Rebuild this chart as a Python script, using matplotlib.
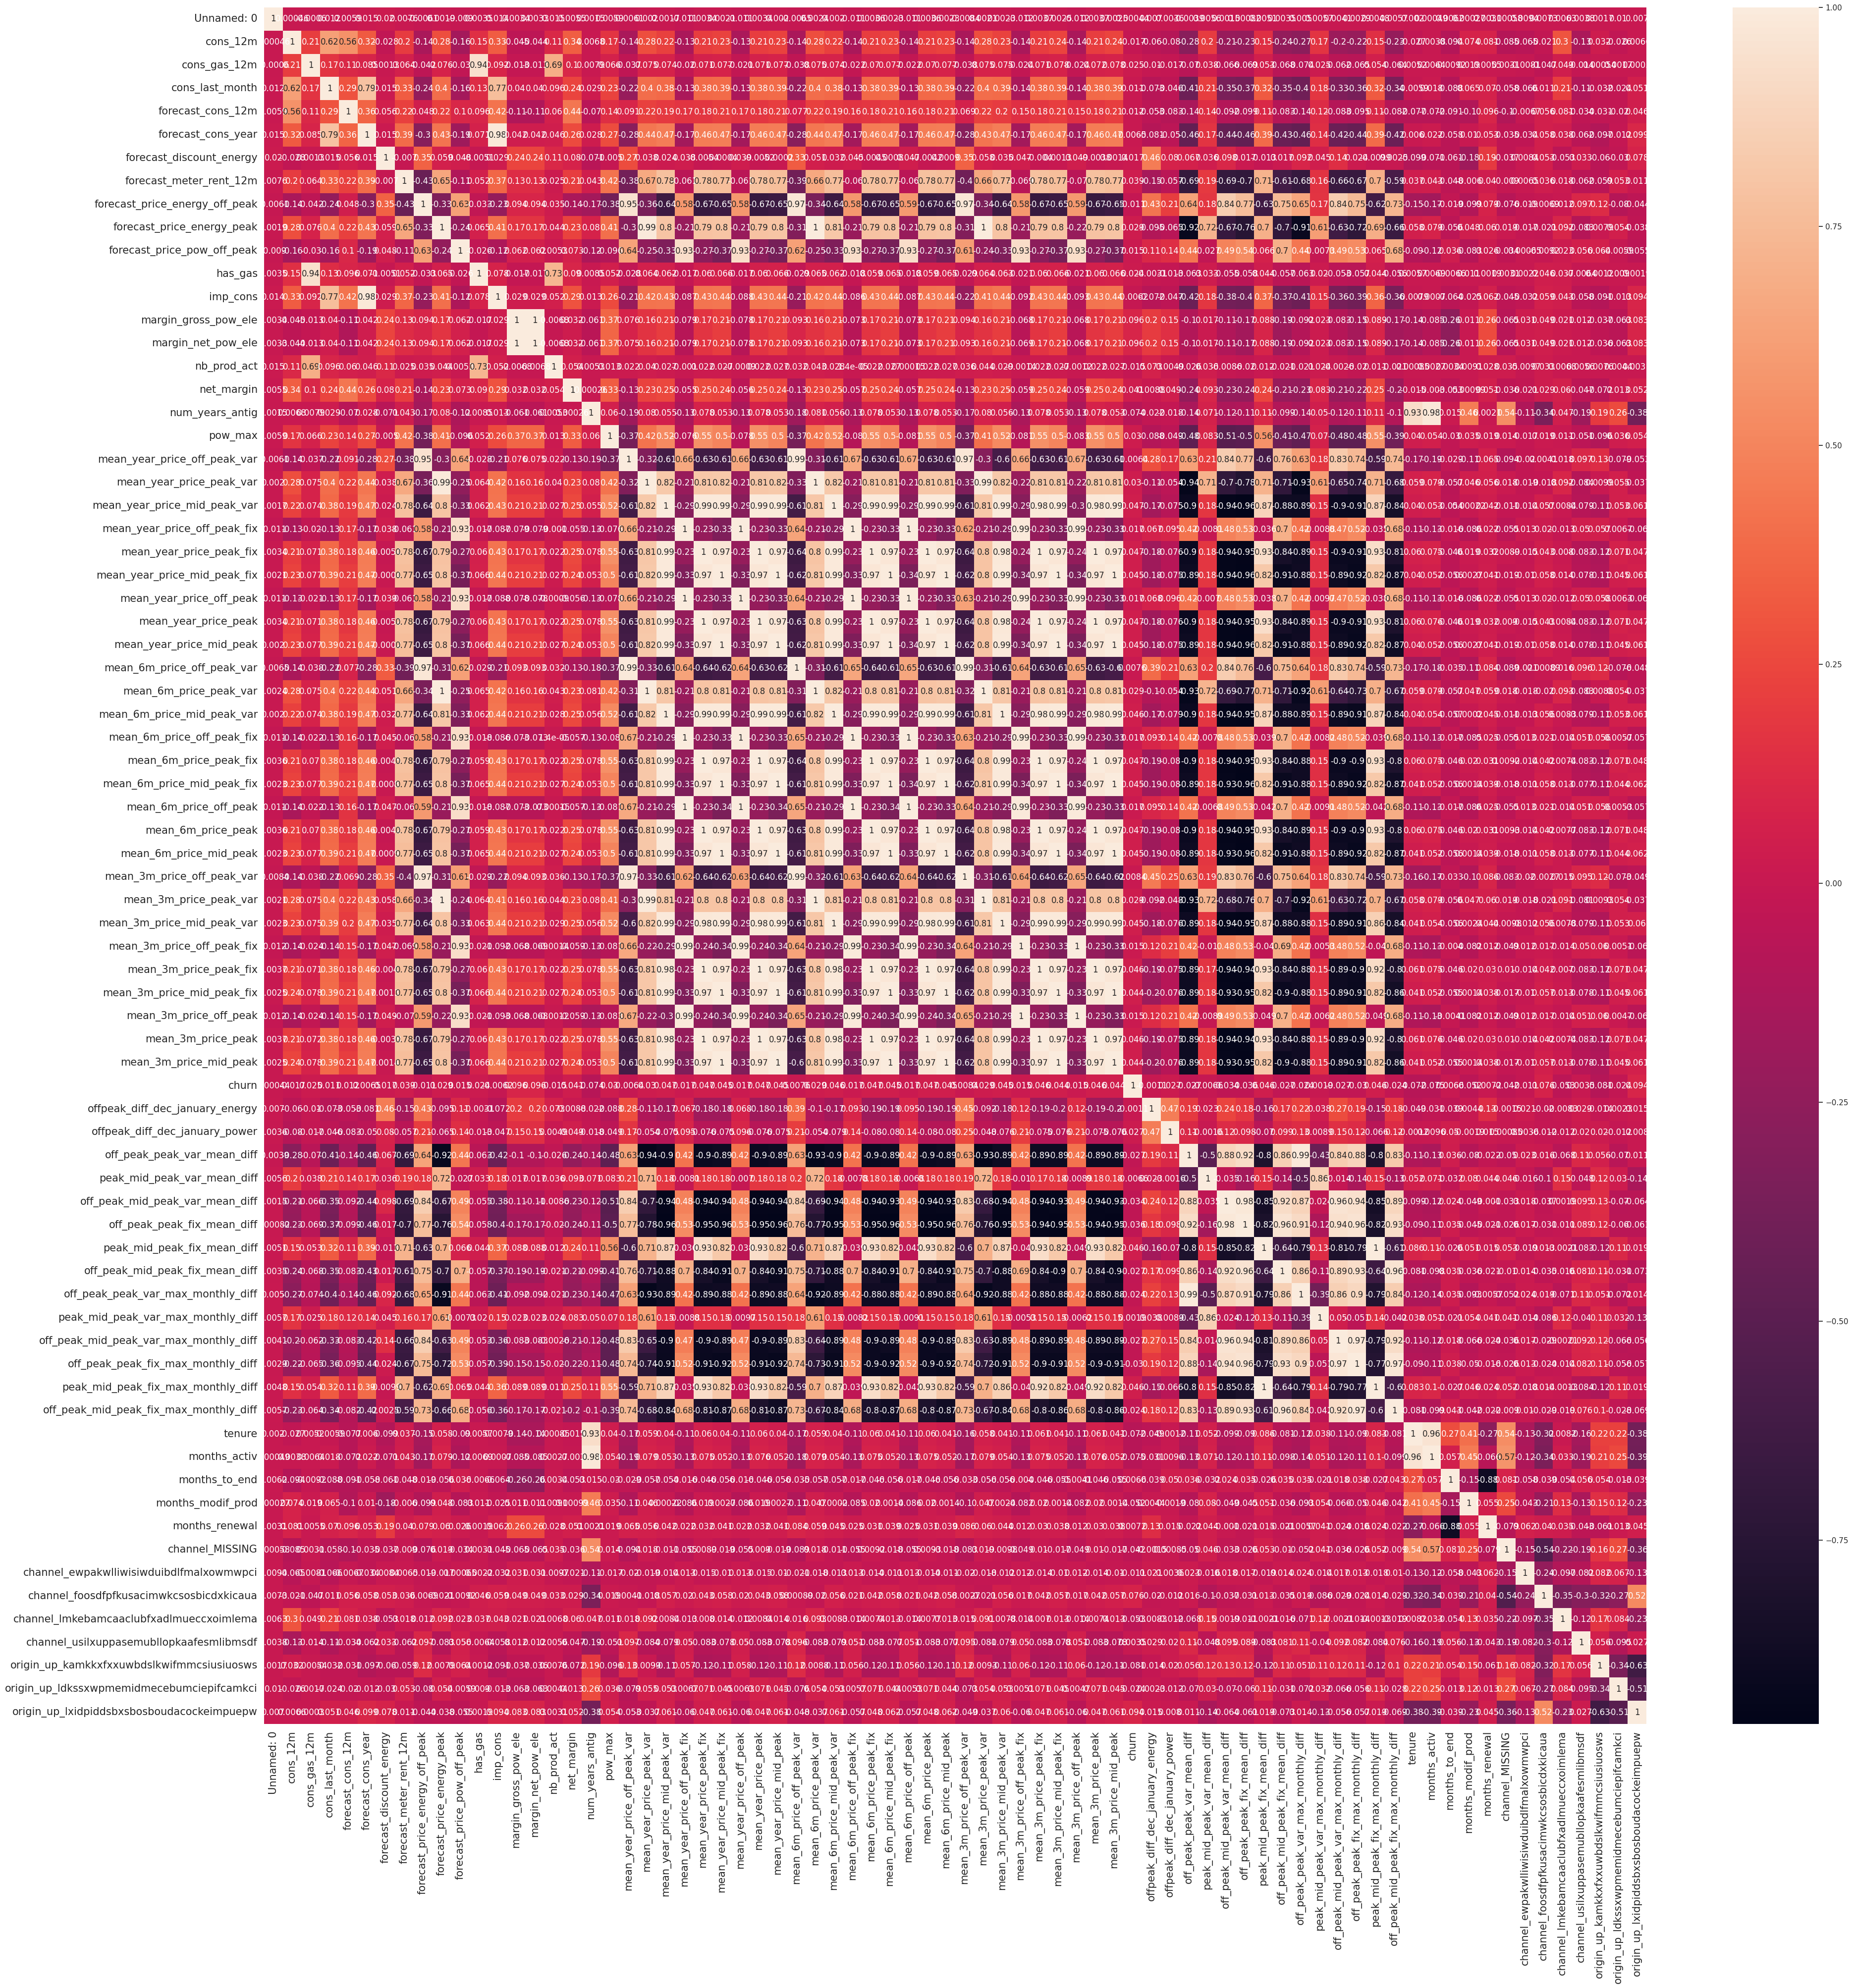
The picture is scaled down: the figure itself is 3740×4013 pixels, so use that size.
import numpy as np
import matplotlib
matplotlib.use('Agg')
import matplotlib.pyplot as plt
import seaborn as sns

labels = ['Unnamed: 0', 'cons_12m', 'cons_gas_12m', 'cons_last_month', 'forecast_cons_12m', 'forecast_cons_year',
          'forecast_discount_energy', 'forecast_meter_rent_12m', 'forecast_price_energy_off_peak',
          'forecast_price_energy_peak', 'forecast_price_pow_off_peak', 'has_gas', 'imp_cons', 'margin_gross_pow_ele',
          'margin_net_pow_ele', 'nb_prod_act', 'net_margin', 'num_years_antig', 'pow_max',
          'mean_year_price_off_peak_var', 'mean_year_price_peak_var', 'mean_year_price_mid_peak_var',
          'mean_year_price_off_peak_fix', 'mean_year_price_peak_fix', 'mean_year_price_mid_peak_fix',
          'mean_year_price_off_peak', 'mean_year_price_peak', 'mean_year_price_mid_peak',
          'mean_6m_price_off_peak_var', 'mean_6m_price_peak_var', 'mean_6m_price_mid_peak_var',
          'mean_6m_price_off_peak_fix', 'mean_6m_price_peak_fix', 'mean_6m_price_mid_peak_fix',
          'mean_6m_price_off_peak', 'mean_6m_price_peak', 'mean_6m_price_mid_peak',
          'mean_3m_price_off_peak_var', 'mean_3m_price_peak_var', 'mean_3m_price_mid_peak_var',
          'mean_3m_price_off_peak_fix', 'mean_3m_price_peak_fix', 'mean_3m_price_mid_peak_fix',
          'mean_3m_price_off_peak', 'mean_3m_price_peak', 'mean_3m_price_mid_peak', 'churn',
          'offpeak_diff_dec_january_energy', 'offpeak_diff_dec_january_power', 'off_peak_peak_var_mean_diff',
          'peak_mid_peak_var_mean_diff', 'off_peak_mid_peak_var_mean_diff', 'off_peak_peak_fix_mean_diff',
          'peak_mid_peak_fix_mean_diff', 'off_peak_mid_peak_fix_mean_diff', 'off_peak_peak_var_max_monthly_diff',
          'peak_mid_peak_var_max_monthly_diff', 'off_peak_mid_peak_var_max_monthly_diff',
          'off_peak_peak_fix_max_monthly_diff', 'peak_mid_peak_fix_max_monthly_diff',
          'off_peak_mid_peak_fix_max_monthly_diff', 'tenure', 'months_activ', 'months_to_end', 'months_modif_prod',
          'months_renewal', 'channel_MISSING', 'channel_ewpakwlliwisiwduibdlfmalxowmwpci',
          'channel_foosdfpfkusacimwkcsosbicdxkicaua', 'channel_lmkebamcaaclubfxadlmueccxoimlema',
          'channel_usilxuppasemubllopkaafesmlibmsdf', 'origin_up_kamkkxfxxuwbdslkwifmmcsiusiuosws',
          'origin_up_ldkssxwpmemidmecebumciepifcamkci', 'origin_up_lxidpiddsbxsbosboudacockeimpuepw']

# upper triangle of the correlation matrix, each row starts right after the diagonal
r00 = [.00046,-.0006,.012,.0059,.015,.02,.0076,-.0061,.0019,-.009,.0035,.014,.0034,.0033,.015,.0055,.0015,.0059,-.0061,
       .002,.0017,-.011,.0034,.0021,-.011,.0034,.002,-.0065,.0024,.002,-.011,.0036,.0023,-.011,.0036,.0023,-.0084,.0021,.0023,-.012,.0037,.0025,-.012,.0037,.0025,.00044,.007,.0036,
       -.0039,.0056,.0015,.00082,.0051,.0035,.005,.0057,.0041,.0029,.0048,.0057,.002,.00049,.0062,.00027,.0031,.00058,.0094,.0073,.0063,.0038,.0017,.01,.007]
r01 = [.21,.62,.56,.32,-.028,.2,-.14,.28,-.16,.15,.33,-.045,-.044,.11,.34,.0068,.17,-.14,
       .28,.22,-.13,.21,.23,-.13,.21,.23,-.14,.28,.22,-.14,.21,.23,-.14,.21,.23,-.14,.28,.23,-.14,.21,.24,-.14,.21,.24,-.017,-.06,-.08,
       -.28,.2,-.21,-.23,.15,-.24,-.27,.17,-.2,-.22,.15,-.23,-.027,.0038,-.094,.074,.081,-.085,-.065,-.021,.3,-.13,.032,-.026,.0066]
r02 = [.17,.11,.085,.0013,.064,-.042,.076,-.03,.94,.092,-.013,-.013,.69,.1,.0079,.066,-.037,
       .075,.074,-.02,.071,.077,-.021,.071,.077,-.038,.075,.074,-.022,.07,.077,-.022,.07,.077,-.038,.075,.075,-.024,.071,.078,-.024,.072,.078,.025,-.01,-.017,
       -.07,.038,-.066,-.069,.053,-.068,-.074,.025,-.062,-.065,.054,-.064,.0052,.0064,-.0092,.019,.0055,.0031,-.0081,-.047,.049,-.014,.00054,.0017,.0003]
r03 = [.29,.79,.015,.33,-.24,.4,-.16,.13,.77,.04,.04,.096,.24,.029,.23,-.22,
       .4,.38,-.13,.38,.39,-.13,.38,.39,-.22,.4,.38,-.13,.38,.39,-.13,.38,.39,-.22,.4,.39,-.14,.38,.39,-.14,.38,.39,.011,-.073,-.046,
       -.41,.21,-.35,-.37,.32,-.35,-.4,.18,-.33,-.36,.32,-.34,-.0059,.018,-.088,.065,.07,-.058,-.066,.011,.21,-.11,-.032,-.024,.051]
r04 = [.36,.056,.22,.048,.22,.1,.096,.42,-.11,-.11,.06,.44,-.07,.14,.091,
       .22,.19,.17,.18,.21,.17,.18,.21,.077,.22,.19,.16,.18,.21,.16,.18,.21,.069,.22,.2,.15,.18,.21,.15,.18,.21,.012,-.053,-.083,
       -.14,.14,-.092,-.099,.11,-.083,-.14,.12,-.083,-.095,.11,-.082,-.077,-.072,-.091,-.1,.096,-.1,-.0067,.056,.081,-.034,-.031,-.02,.046]
r05 = [.015,.39,-.3,.43,-.19,.071,.98,.042,.042,.046,.26,.028,.27,-.28,
       .44,.47,-.17,.46,.47,-.17,.46,.47,-.28,.44,.47,-.17,.46,.47,-.17,.46,.47,-.28,.43,.47,-.17,.46,.47,-.17,.46,.47,.0065,-.081,-.05,
       -.46,.17,-.44,-.46,.39,-.43,-.46,.14,-.42,-.44,.39,-.42,.006,.022,-.058,.01,.053,-.035,-.034,.058,.038,-.062,-.097,-.012,.099]
r06 = [-.007,.35,.059,.048,-.0051,.029,.24,.24,.11,.08,-.071,-.005,.27,
       .038,.024,.038,-.0054,-.0004,.039,-.0052,-.0002,.33,.051,.032,.045,-.0045,.0008,.047,-.0042,.0009,.35,.058,.035,.047,-.004,.0013,.049,-.0038,.0014,.017,.46,.08,
       .067,.036,.098,.017,-.013,.017,.092,.045,.14,.024,-.0099,.0025,-.099,-.071,-.061,-.18,.19,-.037,.0084,.053,-.053,.033,-.06,-.03,.078]
r07 = [-.43,.65,-.11,.052,.37,.13,.13,.025,.21,.043,.42,-.38,
       .67,.78,-.061,.78,.77,-.061,.78,.77,-.39,.66,.77,-.06,.78,.77,-.06,.78,.77,-.4,.66,.77,-.069,.78,.77,-.07,.78,.77,.039,-.15,-.057,
       -.69,.19,-.69,-.7,.71,-.61,-.68,.16,-.66,-.67,.7,-.59,.037,.043,-.048,-.006,.04,-.009,.0065,.036,.018,-.062,-.059,.053,.011]
r08 = [-.33,.63,-.033,-.23,.094,.094,.035,-.14,-.17,-.38,.95,
       -.36,-.64,.58,-.67,-.65,.58,-.67,-.65,.97,-.34,-.64,.58,-.67,-.65,.59,-.67,-.65,.97,-.34,-.64,.58,-.67,-.65,.59,-.67,-.65,-.011,.43,.21,
       .64,.18,.84,.77,-.63,.75,.65,.17,.84,.75,-.62,.73,-.15,-.17,-.019,-.099,.079,-.076,-.019,-.0069,.012,.097,.12,-.08,-.044]
r09 = [-.24,.065,.41,.17,.17,.044,.23,.08,.41,-.3,
       .99,.8,-.21,.79,.8,-.21,.79,.8,-.31,1,.81,-.21,.79,.8,-.21,.79,.8,-.31,1,.8,-.21,.79,.8,-.22,.79,.8,.029,-.095,-.065,
       -.92,.72,-.67,-.76,.7,-.7,-.91,.61,-.63,-.72,.69,-.66,.058,.079,-.056,.048,.06,.019,-.017,-.021,.092,-.083,.0079,.054,-.038]
r10 = [-.026,-.12,.062,.062,.0053,.073,-.12,-.096,.64,
       -.25,-.33,.93,-.27,-.37,.93,-.27,-.37,.62,-.25,-.33,.93,-.27,-.37,.93,-.27,-.37,.61,-.24,-.33,.93,-.27,-.37,.93,-.27,-.37,.015,.11,.14,
       .44,-.027,.49,.54,.066,.7,.44,-.0073,.49,.53,.065,.68,-.09,-.12,.036,-.083,.026,-.034,.00065,-.0092,.023,.056,.064,-.0059,-.055]
r11 = [.078,-.017,-.017,.73,.09,.0085,.052,-.028,
       .064,.062,-.017,.06,.066,-.017,.06,.066,-.029,.065,.062,-.018,.059,.065,-.018,.059,.065,-.029,.064,.063,-.021,.06,.066,-.021,.06,.066,.024,-.0031,-.013,
       -.063,.033,-.055,-.058,.044,-.057,-.063,.02,-.053,-.057,.044,-.056,.0057,.0069,-.0066,.011,.0019,.0031,.0022,.046,.037,-.0064,.0012,.009,.0019]
r12 = [.029,.029,.052,.29,.013,.26,-.21,
       .42,.43,-.087,.43,.44,-.088,.43,.44,-.21,.42,.44,-.086,.43,.44,-.087,.43,.44,-.22,.41,.44,-.092,.43,.44,-.093,.43,.44,-.0062,-.072,-.047,
       -.42,.18,-.38,-.4,.37,-.37,-.41,.15,-.36,-.39,.36,-.36,-.0079,.0007,-.064,-.025,.062,-.045,-.032,.059,.043,-.058,-.091,-.013,.094]
r13 = [1,-.0068,.032,-.061,.37,.076,
       .16,.21,-.079,.17,.21,-.078,.17,.21,.093,.16,.21,-.073,.17,.21,-.073,.17,.21,.094,.16,.21,-.068,.17,.21,-.068,.17,.21,.096,.2,.15,
       -.1,.017,-.11,-.17,.088,-.19,-.092,.023,-.083,-.15,.089,-.17,-.14,-.085,-.26,.011,.26,-.065,.031,.049,.021,.012,-.037,-.063,.083]
r14 = [-.0068,.032,-.061,.37,.075,
       .16,.21,-.079,.17,.21,-.078,.17,.21,.093,.16,.21,-.073,.17,.21,-.073,.17,.21,.093,.16,.21,-.069,.17,.21,-.068,.17,.21,.096,.2,.15,
       -.1,.017,-.11,-.17,.088,-.19,-.092,.023,-.083,-.15,.089,-.17,-.14,-.085,-.26,.011,.26,-.065,.031,.049,.021,.012,-.036,-.063,.083]
r15 = [.054,.0053,.013,.022,
       .04,.027,-.001,.022,.027,-.0009,.022,.027,.032,.043,.028,.000014,.022,.027,.00015,.022,.027,.036,.044,.029,-.0014,.022,.027,-.0012,.022,.027,-.015,.073,.0049,
       -.026,.036,-.0086,-.02,.012,-.021,-.021,.024,-.0026,-.02,.011,-.021,.00085,.0027,.0034,.0091,.028,.035,-.0097,.033,.0068,.0056,.0076,.0044,.0031]
r16 = [.00026,.33,-.13,
       .23,.25,-.055,.25,.24,-.056,.25,.24,-.13,.23,.25,-.057,.25,.24,-.057,.25,.24,-.13,.23,.25,-.059,.25,.24,-.059,.25,.24,.041,.0088,.049,
       -.24,.093,-.23,-.24,.24,-.21,-.23,.083,-.21,-.22,.25,-.2,-.015,-.003,-.053,.00099,.051,-.036,-.021,.029,.06,-.047,-.072,.013,.052]
r17 = [.06,-.19,
       .08,.055,-.13,.078,.053,-.13,.078,.053,-.18,.081,.056,-.13,.078,.053,-.13,.078,.053,-.17,.08,.056,-.13,.078,.053,-.13,.078,.053,-.074,-.022,-.018,
       -.14,.071,-.12,-.11,.11,-.099,-.14,.05,-.12,-.11,.11,-.1,.93,.98,.015,.46,.0021,.54,-.11,-.34,.047,-.19,.19,.26,-.38]
r18 = [-.37,
       .42,.52,-.076,.55,.5,-.078,.55,.5,-.37,.42,.52,-.08,.55,.5,-.081,.55,.5,-.37,.41,.52,-.081,.55,.5,-.083,.55,.5,.03,-.088,-.049,
       -.48,.083,-.51,-.5,.56,-.41,-.47,.07,-.48,-.48,.55,-.39,.04,.054,-.03,.035,.019,.014,-.017,.019,.011,-.051,-.096,.036,.054]
r19 = [-.32,-.61,.66,-.63,-.61,.66,-.63,-.61,.99,-.31,-.61,.67,-.63,-.61,.67,-.63,-.61,.97,-.3,-.6,.66,-.63,-.61,.67,-.63,-.61,-.0064,.28,.17,
       .63,.21,.84,.77,-.6,.76,.63,.18,.83,.74,-.59,.74,-.17,-.19,-.029,-.11,.065,-.094,-.02,.0041,.018,.097,.13,-.079,-.053]
r20 = [.82,-.21,.81,.82,-.21,.81,.82,-.33,1,.82,-.21,.81,.81,-.21,.81,.81,-.33,.99,.82,-.22,.81,.81,-.22,.81,.81,.03,-.11,-.054,
       -.94,.71,-.7,-.78,.71,-.71,-.93,.61,-.65,-.74,.71,-.68,.059,.079,-.057,.046,.056,.018,-.019,-.018,.092,-.084,.0099,.055,-.037]
r21 = [-.29,.99,.99,-.29,.99,.99,-.61,.81,1,-.29,.99,.99,-.29,.99,.99,-.61,.81,.99,-.29,.98,.99,-.3,.98,.99,.047,-.17,-.075,
       -.9,.18,-.94,-.96,.87,-.88,-.89,.15,-.9,-.91,.87,-.84,.04,.053,-.054,.00022,.042,-.011,-.014,.057,.0084,-.079,-.11,.053,.061]
r22 = [-.23,-.33,1,-.23,-.33,.64,-.21,-.29,1,-.23,-.33,1,-.23,-.33,.62,-.21,-.29,.99,-.23,-.33,.99,-.23,-.33,.017,.067,.095,
       .42,-.0081,.48,.53,-.036,.7,.42,-.0088,.47,.52,-.035,.68,-.11,-.13,-.016,-.086,.022,-.055,.013,.02,-.013,.05,.057,.0067,-.06]
r23 = [.97,-.23,1,.97,-.64,.8,.99,-.23,1,.97,-.23,1,.97,-.64,.8,.98,-.24,1,.97,-.24,1,.97,.047,-.18,-.076,
       -.9,.18,-.94,-.95,.93,-.84,-.89,.15,-.9,-.91,.93,-.81,.06,.075,-.046,.019,.032,.0089,-.015,.043,.008,-.083,-.12,.071,.047]
r24 = [-.33,.97,1,-.62,.81,.99,-.33,.97,1,-.34,.97,1,-.62,.8,.99,-.34,.97,1,-.34,.97,1,.045,-.18,-.075,
       -.89,.18,-.94,-.96,.82,-.91,-.88,.15,-.89,-.92,.82,-.87,.04,.052,-.056,.0027,.041,-.019,-.01,.058,.014,-.078,-.11,.045,.061]
r25 = [-.23,-.33,.64,-.21,-.29,1,-.23,-.33,1,-.23,-.33,.63,-.21,-.29,.99,-.23,-.33,.99,-.23,-.33,.017,.068,.096,
       .42,-.007,.48,.53,-.038,.7,.42,-.0097,.47,.52,-.038,.68,-.11,-.13,-.016,-.086,.022,-.055,.013,.02,-.012,.05,.058,.0063,-.06]
r26 = [.97,-.63,.8,.99,-.23,1,.97,-.23,1,.97,-.64,.8,.98,-.24,1,.97,-.24,1,.97,.047,-.18,-.076,
       -.9,.18,-.94,-.95,.93,-.84,-.89,.15,-.9,-.91,.93,-.81,.06,.076,-.046,.019,.032,.009,-.015,.043,.0084,-.083,-.12,.071,.047]
r27 = [-.62,.81,.99,-.33,.97,1,-.34,.97,1,-.62,.8,.99,-.34,.97,1,-.34,.97,1,.045,-.18,-.075,
       -.89,.18,-.94,-.96,.82,-.91,-.88,.15,-.89,-.92,.82,-.87,.04,.052,-.056,.0027,.041,-.019,-.01,.058,.014,-.078,-.11,.045,.061]
r28 = [-.31,-.61,.65,-.64,-.61,.65,-.63,-.61,.99,-.31,-.61,.64,-.63,-.61,.65,-.63,-.6,.0076,.39,.21,
       .63,.2,.84,.76,-.6,.75,.64,.18,.83,.74,-.59,.73,-.17,-.18,-.035,-.11,.084,-.089,-.021,.00089,.016,.096,.12,-.076,-.048]
r29 = [.82,-.21,.8,.81,-.21,.8,.81,-.32,1,.81,-.21,.8,.81,-.21,.8,.81,.029,-.1,-.054,
       -.93,.72,-.69,-.77,.71,-.71,-.92,.61,-.64,-.73,.7,-.67,.059,.079,-.057,.047,.059,.018,-.018,-.02,.093,-.083,.0088,.054,-.037]
r30 = [-.29,.99,.99,-.29,.99,.99,-.61,.81,1,-.29,.98,.99,-.29,.98,.99,.046,-.17,-.079,
       -.9,.18,-.94,-.95,.87,-.88,-.89,.15,-.89,-.91,.87,-.84,.04,.054,-.057,.0002,.045,-.011,-.013,.056,.0083,-.079,-.11,.053,.061]
r31 = [-.23,-.33,1,-.23,-.33,.63,-.21,-.29,.99,-.23,-.33,.99,-.23,-.33,.017,.093,.14,
       .42,-.0078,.48,.53,-.039,.7,.42,-.0082,.48,.52,-.039,.68,-.11,-.13,-.017,-.085,.025,-.055,.013,.021,-.014,.051,.056,.0057,-.057]
r32 = [.97,-.23,1,.97,-.64,.8,.99,-.23,1,.97,-.24,1,.97,.047,-.19,-.08,
       -.9,.18,-.94,-.95,.93,-.84,-.88,.15,-.9,-.9,.93,-.8,.06,.075,-.046,.02,.031,.0092,-.014,.042,.0074,-.083,-.12,.071,.048]
r33 = [-.34,.97,1,-.62,.81,.99,-.34,.97,1,-.34,.97,1,.045,-.19,-.08,
       -.89,.18,-.93,-.96,.82,-.91,-.88,.15,-.89,-.92,.82,-.87,.041,.052,-.056,.0014,.039,-.018,-.011,.058,.013,-.077,-.11,.044,.062]
r34 = [-.23,-.33,.64,-.21,-.29,.99,-.23,-.33,.99,-.23,-.33,.017,.095,.14,
       .42,-.0068,.49,.53,-.042,.7,.42,-.0091,.48,.52,-.042,.68,-.11,-.13,-.017,-.086,.025,-.055,.013,.021,-.014,.051,.056,.0053,-.057]
r35 = [.97,-.64,.8,.98,-.23,1,.97,-.24,1,.97,.047,-.19,-.08,
       -.9,.18,-.94,-.95,.93,-.84,-.89,.15,-.9,-.9,.93,-.8,.06,.075,-.046,.02,.031,.0093,-.014,.042,.0077,-.083,-.12,.071,.048]
r36 = [-.62,.8,.99,-.34,.97,1,-.34,.97,1,.045,-.19,-.08,
       -.89,.18,-.93,-.96,.82,-.91,-.88,.15,-.89,-.92,.82,-.87,.041,.052,-.056,.0014,.039,-.018,-.011,.058,.013,-.077,-.11,.044,.062]
r37 = [-.31,-.61,.64,-.64,-.62,.65,-.64,-.62,.0084,.45,.25,
       .63,.19,.83,.76,-.6,.75,.64,.18,.83,.74,-.59,.73,-.16,-.17,-.033,-.1,.086,-.083,-.02,-.0027,.015,.095,.12,-.073,-.049]
r38 = [.81,-.21,.8,.8,-.21,.8,.8,.029,-.092,-.048,
       -.93,.72,-.68,-.76,.7,-.7,-.92,.61,-.63,-.72,.7,-.67,.058,.079,-.056,.047,.06,.019,-.018,-.021,.091,-.081,.0093,.054,-.037]
r39 = [-.29,.99,.99,-.29,.99,.99,.045,-.18,-.076,
       -.89,.18,-.94,-.95,.87,-.88,-.88,.15,-.89,-.91,.86,-.84,.041,.054,-.056,.0024,.044,-.0098,-.012,.056,.0078,-.079,-.11,.053,.06]
r40 = [-.23,-.33,1,-.23,-.33,.015,.12,.21,
       .42,-.01,.48,.53,-.04,.69,.42,-.0053,.48,.52,-.04,.68,-.11,-.13,-.004,-.082,.012,-.049,.012,.017,-.014,.05,.06,.0051,-.06]
r41 = [.97,-.23,1,.97,.046,-.19,-.075,
       -.89,.17,-.94,-.94,.93,-.84,-.88,.15,-.89,-.9,.92,-.8,.061,.075,-.046,.02,.03,.01,-.014,.042,.007,-.083,-.12,.071,.047]
r42 = [-.33,.97,1,.044,-.2,-.076,
       -.89,.18,-.93,-.95,.82,-.9,-.88,.15,-.89,-.91,.82,-.86,.041,.052,-.055,.0014,.038,-.017,-.01,.057,.013,-.078,-.11,.045,.061]
r43 = [-.23,-.33,.015,.12,.21,
       .42,-.0089,.49,.53,-.049,.7,.42,-.0062,.48,.52,-.049,.68,-.11,-.13,-.0041,-.082,.012,-.049,.012,.017,-.014,.051,.06,.0047,-.06]
r44 = [.97,.046,-.19,-.075,
       -.89,.18,-.94,-.94,.93,-.84,-.88,.15,-.89,-.9,.92,-.8,.061,.076,-.046,.02,.03,.01,-.014,.042,.0074,-.083,-.12,.071,.047]
r45 = [.044,-.2,-.076,
       -.89,.18,-.93,-.95,.82,-.9,-.88,.15,-.89,-.91,.82,-.86,.041,.052,-.055,.0014,.038,-.017,-.01,.057,.013,-.078,-.11,.045,.061]
r46 = [-.0011,.027,
       -.027,-.0066,-.034,-.036,.046,-.027,-.024,.0019,-.027,-.03,.046,-.024,-.072,-.075,.0066,-.052,.0072,-.042,-.011,.076,-.053,.0035,-.081,-.024,.094]
r47 = [.47,
       .19,.023,.24,.18,-.16,.17,.22,.038,.27,.19,-.15,.18,-.049,-.031,-.039,.0044,.13,-.0015,.021,-.02,-.0083,.029,-.014,.0023,.015]
r48 = [.11,-.0016,.12,.098,-.07,.099,.13,.0089,.15,.12,-.066,.12,-.0012,.0096,.05,-.0019,.015,.00085,.0036,-.012,-.012,.02,.02,-.012,.008]
r49 = [-.5,.88,.92,-.8,.86,.99,-.43,.84,.88,-.8,.83,-.11,-.13,.036,-.08,-.022,-.05,.023,.016,-.068,.11,.056,-.07,.011]
r50 = [-.035,-.16,.15,-.14,-.5,.86,-.014,-.14,.15,-.13,.052,.071,-.032,.08,.044,.046,-.016,-.1,.15,-.048,.12,.03,-.14]
r51 = [.98,-.85,.92,.87,-.024,.96,.94,-.85,.89,-.099,-.12,.024,-.049,-.001,-.033,.018,-.037,.0019,.095,.13,-.07,-.064]
r52 = [-.82,.96,.91,-.12,.94,.96,-.82,.93,-.09,-.11,.035,-.045,-.021,-.026,.017,-.031,-.011,.089,.12,-.06,-.061]
r53 = [-.64,-.79,.13,-.81,-.79,1,-.61,.086,.11,-.026,.051,.015,.053,-.019,.013,-.0021,-.083,-.12,.11,.019]
r54 = [.86,-.11,.89,.93,-.64,.96,-.081,-.098,.035,-.036,-.021,-.01,.014,-.035,-.016,.081,.11,-.031,-.073]
r55 = [-.39,.86,.9,-.79,.84,-.12,-.14,.035,-.093,-.0057,-.052,.024,.019,-.071,.11,.051,-.072,.014]
r56 = [.05,-.051,.14,-.042,.038,.051,-.021,.054,.041,.041,-.014,-.086,.12,-.04,.11,.032,-.13]
r57 = [.97,-.79,.92,-.11,-.12,.018,-.066,-.024,-.036,.017,-.029,-.0021,.092,.12,-.066,-.056]
r58 = [-.77,.97,-.09,-.11,.038,-.05,-.016,-.026,.013,-.024,-.014,.082,.11,-.056,-.057]
r59 = [-.6,.083,.1,-.027,.046,.024,.052,-.018,.014,-.0013,-.084,-.12,.11,.019]
r60 = [-.081,-.099,.043,-.042,-.022,-.009,.01,-.029,-.019,.076,.1,-.028,-.069]
r61 = [.96,.27,.41,-.27,.54,-.13,-.32,.0082,-.16,.22,.22,-.38]
r62 = [.057,.45,-.066,.57,-.12,-.34,.033,-.19,.21,.25,-.39]
r63 = [-.15,-.88,.081,-.058,-.039,-.054,.056,.054,-.013,-.039]
r64 = [.055,.25,-.043,-.21,.13,-.13,.15,.12,-.23]
r65 = [-.079,.062,.04,.035,-.043,-.061,.013,.045]
r66 = [-.15,-.54,-.22,-.19,.16,.27,-.36]
r67 = [-.24,-.097,-.082,.082,.067,-.13]
r68 = [-.35,-.3,-.32,-.27,.52]
r69 = [-.12,.17,.084,-.23]
r70 = [.056,-.095,.027]
r71 = [-.34,-.63]
r72 = [-.51]

rows = [r00, r01, r02, r03, r04, r05, r06, r07, r08, r09, r10, r11, r12, r13, r14, r15, r16, r17, r18, r19,
        r20, r21, r22, r23, r24, r25, r26, r27, r28, r29, r30, r31, r32, r33, r34, r35, r36, r37, r38, r39,
        r40, r41, r42, r43, r44, r45, r46, r47, r48, r49, r50, r51, r52, r53, r54, r55, r56, r57, r58, r59,
        r60, r61, r62, r63, r64, r65, r66, r67, r68, r69, r70, r71, r72]

cbar_ticks = [-0.75, -0.5, -0.25, 0, 0.25, 0.5, 0.75, 1.0]

n = len(labels)
corr = np.eye(n)
for i, r in enumerate(rows):
    for k, v in enumerate(r):
        corr[i, i + 1 + k] = v
        corr[i + 1 + k, i] = v

sns.set_theme()
W, H = 3740, 4013
fig = plt.figure(figsize=(W / 100, H / 100), dpi=100)
ax = fig.add_axes([533 / W, 1 - 3480 / H, 2790 / W, 3465 / H])
cax = fig.add_axes([3497 / W, 1 - 3480 / H, 174 / W, 3465 / H])

sns.heatmap(corr, annot=True, ax=ax, cbar_ax=cax, xticklabels=labels, yticklabels=labels)
ax.set_xticklabels(labels, rotation=90, fontsize=15)
ax.set_yticklabels(labels, rotation=0, fontsize=15)
ax.tick_params(axis='x', length=0, pad=10)
ax.tick_params(axis='y', length=0, pad=9.4)
cax.set_yticks(cbar_ticks)
cax.set_yticklabels(['%.2f' % t if t >= 0 else '\u2212%.2f' % abs(t) for t in cbar_ticks])
cax.tick_params(right=True, length=6, width=1.25, color='.15')

fig.savefig('out.png', dpi=100)
